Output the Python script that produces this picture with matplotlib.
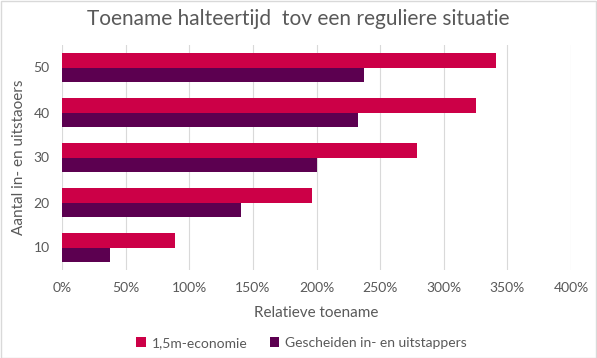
import matplotlib.pyplot as plt
import numpy as np
from matplotlib.patches import Rectangle
from matplotlib.ticker import PercentFormatter

plt.rcParams["font.family"] = ["Lato", "DejaVu Sans"]

# Gegevens uit de grafiek
categories = ["10", "20", "30", "40", "50"]
economie_15m = [88.5, 196.5, 279, 325, 341]
gescheiden = [38, 141, 200, 233, 237]

red = "#CC0047"
purple = "#5C0050"
grey_text = "#595959"

fig = plt.figure(figsize=(5.97, 3.58), dpi=100)
ax = fig.add_axes([62 / 597, 1 - 270 / 358, (571 - 62) / 597, (270 - 45) / 358])

y = np.arange(len(categories))
h = 0.33
ax.barh(y + h / 2, economie_15m, height=h, color=red, label="1,5m-economie", zorder=3)
ax.barh(y - h / 2, gescheiden, height=h, color=purple,
        label="Gescheiden in- en uitstappers", zorder=3)

ax.set_xlim(0, 400)
ax.set_ylim(-0.5, len(categories) - 0.5)
ax.set_xticks(np.arange(0, 401, 50))
ax.xaxis.set_major_formatter(PercentFormatter(decimals=0))
ax.set_yticks(y)
ax.set_yticklabels(categories)
ax.grid(axis="x", color="#D9D9D9", linewidth=0.8, zorder=0)
for s in ax.spines.values():
    s.set_visible(False)
ax.tick_params(length=0, colors=grey_text, labelsize=10, pad=9)

ax.set_xlabel("Relatieve toename", color=grey_text, fontsize=11, labelpad=8)
ax.set_ylabel("Aantal in- en uitstaoers", color=grey_text, fontsize=11, labelpad=5)
fig.suptitle("Toename halteertijd  tov een reguliere situatie", color=grey_text,
             fontsize=15, y=0.975)

fig.legend(loc="lower center", bbox_to_anchor=(0.505, -0.01), ncol=2, frameon=False,
           fontsize=10, handlelength=0.7, handleheight=0.7, columnspacing=1.6,
           handletextpad=0.4, labelcolor=grey_text)

fig.patches.append(Rectangle((0.001, 0.001), 0.997, 0.996, transform=fig.transFigure,
                             fill=False, edgecolor="#D9D9D9", linewidth=1))

fig.savefig("out.png", dpi=100)
